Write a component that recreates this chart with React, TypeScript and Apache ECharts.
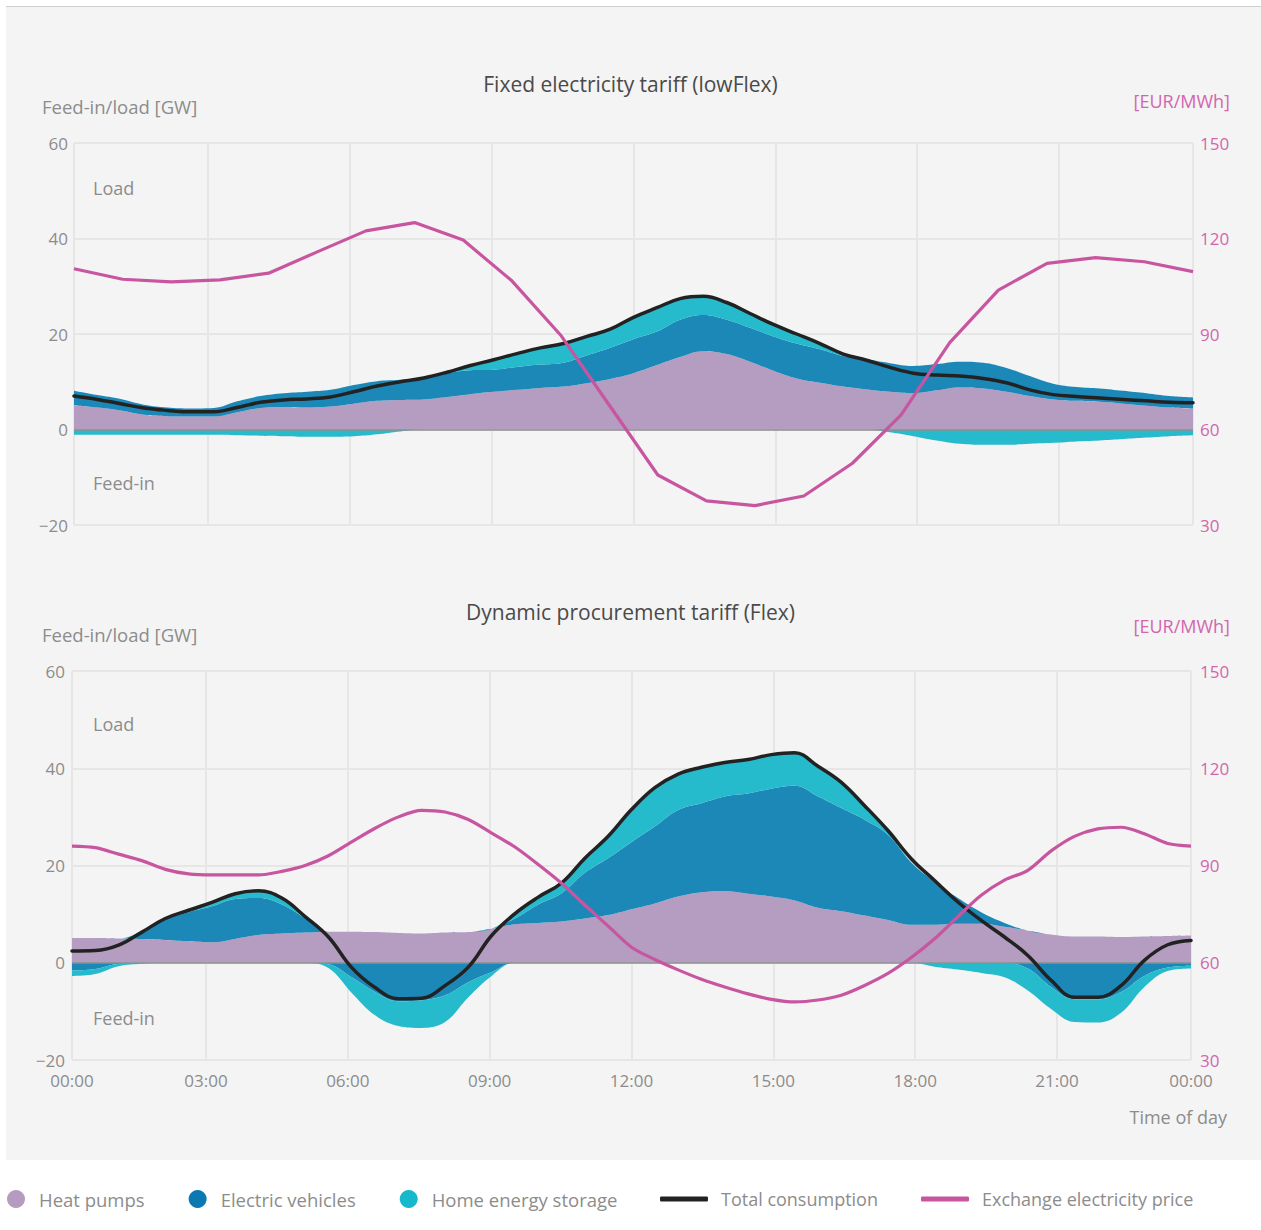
import React, { useEffect, useRef } from "react";
import * as echarts from "echarts";

// ---------- categories ----------
const halfHours: string[] = Array.from({ length: 49 }, (_, i) =>
  `${String(Math.floor(i / 2) % 24).padStart(2, "0")}:${i % 2 ? "30" : "00"}`
);
const hours24: string[] = Array.from({ length: 24 }, (_, i) => `${String(i).padStart(2, "0")}:00`);

// ---------- Fixed electricity tariff (lowFlex) ----------
const lowFlexHeatPumps = [5.1, 4.6, 4.0, 3.1, 2.8, 2.7, 2.7, 3.6, 4.5, 4.7, 4.6, 4.8, 5.4, 6.0, 6.2, 6.3, 6.8, 7.4, 7.9, 8.3, 8.7, 9.0, 9.7, 10.6, 11.8, 13.5, 15.2, 16.4, 15.8, 14.2, 12.3, 10.7, 9.8, 9.0, 8.4, 7.9, 7.6, 8.2, 8.8, 8.6, 7.9, 7.0, 6.3, 6.0, 5.8, 5.4, 5.0, 4.6, 4.4];
const lowFlexEV = [3.0, 2.6, 2.4, 2.1, 1.8, 1.7, 1.8, 2.3, 2.5, 2.9, 3.3, 3.5, 3.9, 4.1, 4.2, 4.6, 5.0, 5.0, 4.6, 4.8, 4.9, 5.0, 5.8, 6.5, 7.1, 7.0, 7.8, 7.6, 7.2, 7.1, 7.2, 7.3, 7.0, 6.4, 6.3, 6.0, 5.7, 5.5, 5.4, 5.4, 5.0, 4.2, 3.3, 2.9, 2.8, 2.7, 2.6, 2.4, 2.3];
const lowFlexStorage = [-1.1, -1.1, -1.1, -1.1, -1.1, -1.1, -1.1, -1.2, -1.3, -1.4, -1.5, -1.5, -1.4, -1.0, -0.4, 0, 0.3, 1.0, 2.1, 2.8, 3.5, 4.0, 4.0, 3.9, 4.6, 5.0, 4.4, 3.9, 3.6, 3.0, 2.5, 2.0, 1.2, 0.4, 0, -0.6, -1.4, -2.3, -3.0, -3.2, -3.2, -3.0, -2.8, -2.5, -2.3, -2.0, -1.7, -1.4, -1.2];
const lowFlexTotal = [7.0, 6.3, 5.4, 4.5, 4.0, 3.7, 3.7, 4.6, 5.7, 6.2, 6.4, 6.8, 7.9, 9.1, 10.0, 10.8, 12.0, 13.4, 14.6, 15.9, 17.1, 18.0, 19.5, 21.0, 23.5, 25.5, 27.4, 27.9, 26.6, 24.3, 22.0, 20.0, 18.0, 15.8, 14.5, 13.0, 11.8, 11.4, 11.2, 10.7, 9.8, 8.3, 7.3, 6.9, 6.6, 6.3, 6.0, 5.7, 5.6];
const lowFlexPrice = [110.5, 107.2, 106.4, 107.0, 109.1, 115.8, 122.4, 125.0, 119.5, 106.7, 89.7, 67.7, 45.7, 37.6, 36.1, 39.1, 49.4, 64.6, 87.3, 103.8, 112.2, 114.0, 112.7, 109.6];

// ---------- Dynamic procurement tariff (Flex) ----------
const flexHeatPumps = [5.1, 5.1, 5.0, 4.9, 4.7, 4.4, 4.2, 4.9, 5.7, 6.0, 6.2, 6.4, 6.4, 6.3, 6.1, 6.0, 6.2, 6.3, 7.0, 7.9, 8.2, 8.5, 9.1, 9.8, 11.0, 12.2, 13.6, 14.5, 14.7, 14.2, 13.6, 12.8, 11.3, 10.6, 9.7, 8.8, 7.8, 7.8, 8.0, 8.0, 7.4, 6.6, 5.8, 5.4, 5.4, 5.3, 5.4, 5.5, 5.6];
const flexEV = [-1.6, -1.3, -0.2, 1.6, 4.2, 6.0, 7.4, 8.2, 7.6, 6.0, 3.0, -0.3, -3.0, -6.0, -7.9, -7.7, -6.7, -4.0, -1.9, 1.2, 3.8, 5.8, 9.4, 11.7, 13.8, 15.8, 17.8, 18.3, 19.5, 20.6, 22.2, 23.6, 22.9, 21.2, 19.7, 17.5, 12.8, 8.8, 5.3, 2.4, 0.8, -1.2, -5.0, -7.5, -7.5, -6.0, -2.7, -1.0, -0.6];
const flexStorage = [-1.1, -1.0, -0.5, -0.2, 0.3, 0.4, 0.8, 1.1, 1.5, 1.3, 0.3, -0.8, -3.2, -4.8, -5.1, -5.7, -5.5, -3.1, -0.8, 1.0, 1.5, 2.1, 3.0, 4.5, 6.7, 8.0, 7.4, 7.4, 7.0, 7.0, 7.0, 6.8, 6.2, 5.3, 2.9, 0.9, 0, -0.8, -1.4, -2.1, -3.0, -4.5, -4.5, -4.7, -4.8, -4.3, -2.3, -0.7, -0.6];
const flexTotal = [2.4, 2.5, 3.6, 6.3, 9.1, 10.8, 12.4, 14.2, 14.8, 13.3, 9.5, 5.3, -1.0, -5.1, -7.4, -7.3, -4.7, -0.9, 5.6, 10.1, 13.5, 16.4, 21.5, 26.0, 31.5, 36.0, 38.8, 40.2, 41.2, 41.8, 42.8, 43.2, 40.4, 37.1, 32.3, 27.2, 21.4, 16.9, 12.5, 8.7, 5.3, 1.5, -3.6, -7.1, -7.1, -4.7, 0.5, 3.7, 4.6];
const flexPrice = [96.0, 95.5, 93.5, 91.5, 88.8, 87.4, 87.1, 87.1, 87.1, 88.2, 90.0, 93.0, 97.3, 101.5, 105.0, 107.0, 106.5, 104.2, 100.0, 95.7, 90.3, 84.5, 77.8, 71.3, 64.8, 61.0, 57.8, 54.9, 52.5, 50.4, 48.7, 47.9, 48.5, 50.0, 53.0, 56.7, 61.6, 67.4, 74.2, 80.8, 85.5, 88.5, 94.5, 99.0, 101.3, 101.8, 99.8, 96.8, 96.0];

// ---------- axis settings ----------
const loadMin = -20, loadMax = 60, loadStep = 20;
const priceMin = 30, priceMax = 150, priceStep = 30;
const timeMin = 1 / 6, timeMax = 24 - 1 / 6;

const FONT = "'Open Sans', sans-serif";
const GRAY = "#8c8c8c";
const PINK = "#c8559f";
const PINK_TEXT = "#d266ad";
const GRID_LINE = "#e6e6e6";
const HP_FILL = "#b49dc0", HP_LEG = "#b49cc0";
const EV_FILL = "#1b88b8", EV_LEG = "#0a79b2";
const HES_FILL = "#26bacd", HES_LEG = "#16b8cb";
const TOTAL_COLOR = "#222222";

const minusFmt = (v: number) => (v < 0 ? "\u2212" + Math.abs(v) : String(v));
const timeFmt = (v: number) => String(Math.round(v) % 24).padStart(2, "0") + ":00";
const positivePart = (a: number[]) => a.map((v) => (v > 0 ? v : 0));
const negativePart = (a: number[]) => a.map((v) => (v < 0 ? v : 0));

function area(name: string, data: number[], xi: number, yi: number, stack: string, leg: string, fill: string, extra: any = {}) {
  return {
    name, type: "line", xAxisIndex: xi, yAxisIndex: yi, data, stack,
    smooth: 0.4, symbol: "none", lineStyle: { width: 0 }, itemStyle: { color: leg },
    areaStyle: { color: fill, opacity: 1 }, z: 2, silent: true, emphasis: { disabled: true }, ...extra,
  };
}

const zeroLine = {
  silent: true, symbol: "none", z: 3, label: { show: false },
  lineStyle: { color: "#8f8f8f", width: 1.5, type: "solid" }, data: [{ yAxis: 0 }],
};

function panelSeries(
  hp: number[], ev: number[], hes: number[], total: number[], price: number[],
  xi: number, yi: number, pxi: number, pyi: number, key: string, priceSmooth: number | boolean
) {
  return [
    area("Heat pumps", hp, xi, yi, key + "pos", HP_LEG, HP_FILL),
    area("Electric vehicles", positivePart(ev), xi, yi, key + "pos", EV_LEG, EV_FILL),
    area("Home energy storage", positivePart(hes), xi, yi, key + "pos", HES_LEG, HES_FILL),
    area("Electric vehicles", negativePart(ev), xi, yi, key + "neg", EV_LEG, EV_FILL),
    area("Home energy storage", negativePart(hes), xi, yi, key + "neg", HES_LEG, HES_FILL, { markLine: zeroLine }),
    {
      name: "Total consumption", type: "line", xAxisIndex: xi, yAxisIndex: yi, data: total, smooth: 0.4,
      symbol: "none", lineStyle: { color: TOTAL_COLOR, width: 3.5, cap: "round", join: "round" },
      itemStyle: { color: TOTAL_COLOR }, z: 4, silent: true,
    },
    {
      name: "Exchange electricity price", type: "line", xAxisIndex: pxi, yAxisIndex: pyi, data: price, smooth: priceSmooth,
      symbol: "none", lineStyle: { color: PINK, width: 3.2, join: "round" }, itemStyle: { color: PINK }, z: 5, silent: true,
    },
  ];
}

function buildOption() {
  const valueX = (grid: number, labels: boolean) => ({
    gridIndex: grid, type: "value", min: timeMin, max: timeMax, splitNumber: 8,
    axisLine: { show: false }, axisTick: { show: false },
    axisLabel: { show: labels, formatter: timeFmt, color: GRAY, fontSize: 17, fontFamily: FONT, margin: 12, showMinLabel: true, showMaxLabel: true },
    splitLine: { show: true, lineStyle: { color: GRID_LINE, width: 2 } },
  });
  const loadY = (grid: number, margin: number) => ({
    gridIndex: grid, type: "value", min: loadMin, max: loadMax, interval: loadStep, position: "left",
    axisLine: { show: false }, axisTick: { show: false },
    axisLabel: { color: GRAY, fontSize: 17, fontFamily: FONT, margin, formatter: minusFmt },
    splitLine: { show: true, lineStyle: { color: GRID_LINE, width: 2 } },
  });
  const priceY = (grid: number, margin: number) => ({
    gridIndex: grid, type: "value", min: priceMin, max: priceMax, interval: priceStep, position: "right",
    axisLine: { show: false }, axisTick: { show: false },
    axisLabel: { color: PINK_TEXT, fontSize: 17, fontFamily: FONT, margin },
    splitLine: { show: false },
  });
  const txt = (text: string, x: number, y: number, align: string, color = GRAY, size = 18) => ({
    type: "text", x, y, silent: true, z: 10,
    style: { text, fill: color, fontSize: size, fontFamily: FONT, align, verticalAlign: "middle" },
  });
  const titleStyle = { fontSize: 21, fontWeight: "normal", color: "#4a4a4a", fontFamily: FONT };

  return {
    animation: false,
    textStyle: { fontFamily: FONT },
    title: [
      { text: "Fixed electricity tariff (lowFlex)", left: "center", top: 68, textStyle: titleStyle },
      { text: "Dynamic procurement tariff (Flex)", left: "center", top: 596, textStyle: titleStyle },
    ],
    legend: [
      {
        data: ["Heat pumps", "Electric vehicles", "Home energy storage"], icon: "circle", padding: 0,
        itemWidth: 18, itemHeight: 18, itemGap: 44, left: 7, top: 1187, selectedMode: false,
        textStyle: { fontSize: 18.5, color: GRAY, fontFamily: FONT, padding: [0, 0, 0, 9], lineHeight: 24 },
      },
      {
        data: ["Total consumption", "Exchange electricity price"], icon: "roundRect", padding: 0,
        itemWidth: 48, itemHeight: 5, itemGap: 43, left: 660, top: 1187, selectedMode: false,
        textStyle: { fontSize: 18, color: GRAY, fontFamily: FONT, padding: [0, 0, 0, 8], lineHeight: 24 },
      },
    ],
    grid: [
      { left: 74, top: 143, width: 1119, height: 382 },
      { left: 72, top: 671, width: 1119, height: 389 },
    ],
    xAxis: [
      valueX(0, false),
      { gridIndex: 0, type: "category", data: halfHours, boundaryGap: false, show: false },
      { gridIndex: 0, type: "category", data: hours24, boundaryGap: false, show: false },
      valueX(1, true),
      { gridIndex: 1, type: "category", data: halfHours, boundaryGap: false, show: false },
    ],
    yAxis: [loadY(0, 6), priceY(0, 7), loadY(1, 7), priceY(1, 9)],
    graphic: [
      { type: "rect", shape: { x: 6, y: 7, width: 1255, height: 1153 }, style: { fill: "#f4f4f4" }, z: -100, silent: true },
      { type: "line", shape: { x1: 6, y1: 6.5, x2: 1261, y2: 6.5 }, style: { stroke: "#d0d0d0", lineWidth: 1 }, z: -99, silent: true },
      txt("Feed-in/load [GW]", 42, 106, "left", GRAY, 18.5),
      txt("[EUR/MWh]", 1230, 101, "right", PINK_TEXT),
      txt("Load", 93, 188, "left"),
      txt("Feed-in", 93, 483, "left"),
      txt("Feed-in/load [GW]", 42, 634, "left", GRAY, 18.5),
      txt("[EUR/MWh]", 1230, 626, "right", PINK_TEXT),
      txt("Load", 93, 724, "left"),
      txt("Feed-in", 93, 1018, "left"),
      txt("Time of day", 1227, 1117, "right", GRAY, 18),
    ],
    series: [
      ...panelSeries(lowFlexHeatPumps, lowFlexEV, lowFlexStorage, lowFlexTotal, lowFlexPrice, 1, 0, 2, 1, "top", false),
      ...panelSeries(flexHeatPumps, flexEV, flexStorage, flexTotal, flexPrice, 4, 2, 4, 3, "bottom", 0.3),
    ],
  };
}

export default function App() {
  const ref = useRef<HTMLDivElement>(null);
  useEffect(() => {
    document.body.style.margin = "0";
    if (!ref.current) return;
    const chart = echarts.init(ref.current, null, { renderer: "svg" });
    chart.setOption(buildOption() as any);
    return () => chart.dispose();
  }, []);
  return <div ref={ref} style={{ width: 1261, height: 1230, background: "#ffffff" }} />;
}
